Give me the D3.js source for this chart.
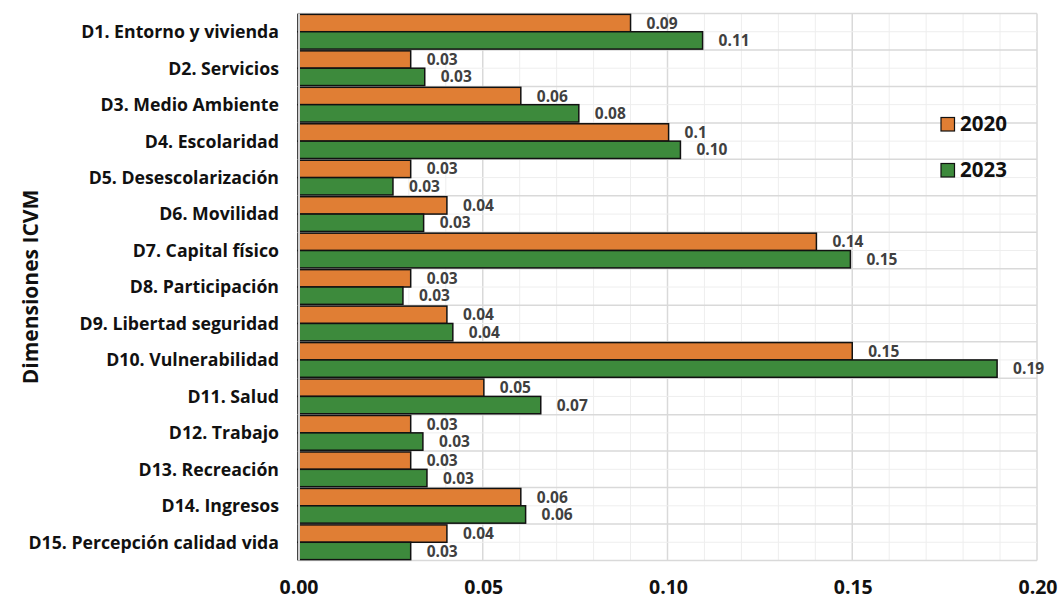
<!DOCTYPE html>
<html lang="es">
<head>
<meta charset="UTF-8">
<title>Dimensiones ICVM 2020 - 2023</title>
<script src="https://d3js.org/d3.v7.min.js"></script>
<style>
  body { margin: 0; background: #fff; }
  svg { font-family: "Open Sans", Lato, sans-serif; }
</style>
</head>
<body>
<div id="chart"></div>
<script>
// categories and series values
const categories = [
  "D1. Entorno y vivienda", "D2. Servicios", "D3. Medio Ambiente", "D4. Escolaridad",
  "D5. Desescolarización", "D6. Movilidad", "D7. Capital físico", "D8. Participación",
  "D9. Libertad seguridad", "D10. Vulnerabilidad", "D11. Salud", "D12. Trabajo",
  "D13. Recreación", "D14. Ingresos", "D15. Percepción calidad vida"
];
const years = ["2020", "2023"];
const values2020 = [0.090, 0.0305, 0.0603, 0.1003, 0.0305, 0.0403, 0.1403, 0.0305, 0.0403, 0.150, 0.0503, 0.0305, 0.0305, 0.0603, 0.0403];
const values2023 = [0.1095, 0.0343, 0.076, 0.1035, 0.0257, 0.034, 0.1495, 0.0284, 0.0419, 0.1892, 0.0657, 0.0338, 0.0349, 0.0616, 0.0305];
const labels2020 = ["0.09", "0.03", "0.06", "0.1", "0.03", "0.04", "0.14", "0.03", "0.04", "0.15", "0.05", "0.03", "0.03", "0.06", "0.04"];
const labels2023 = ["0.11", "0.03", "0.08", "0.10", "0.03", "0.03", "0.15", "0.03", "0.04", "0.19", "0.07", "0.03", "0.03", "0.06", "0.03"];
const xTicks = [0, 0.05, 0.10, 0.15, 0.20];

const colors = { "2020": "#E07E34", "2023": "#3D8A3C" };
const seriesValues = { "2020": values2020, "2023": values2023 };
const seriesLabels = { "2020": labels2020, "2023": labels2023 };

const width = 1062, height = 599;
const plotLeft = 298, plotRight = 1037, plotTop = 13.5, plotBottom = 560.5;

const svg = d3.select("#chart").append("svg")
  .attr("width", width).attr("height", height);

const x = d3.scaleLinear().domain([0, 0.20]).range([plotLeft, plotRight]);
const y = d3.scaleBand().domain(categories).range([plotTop, plotBottom]);
const ySub = d3.scaleBand().domain(years).range([0, y.bandwidth()]).paddingOuter(0.05);

// gridlines
const grid = svg.append("g");
d3.range(0, 21).forEach(i => {
  const v = i / 100;
  grid.append("line")
    .attr("x1", x(v)).attr("x2", x(v))
    .attr("y1", plotTop).attr("y2", plotBottom)
    .attr("stroke", i % 5 === 0 ? "#d9d9d9" : "#eeeeee")
    .attr("stroke-width", i % 5 === 0 ? 1.5 : 1);
});
categories.forEach(c => {
  grid.append("line")
    .attr("x1", plotLeft).attr("x2", plotRight)
    .attr("y1", y(c) + y.bandwidth() / 2).attr("y2", y(c) + y.bandwidth() / 2)
    .attr("stroke", "#eeeeee");
  grid.append("line")
    .attr("x1", plotLeft).attr("x2", plotRight)
    .attr("y1", y(c)).attr("y2", y(c))
    .attr("stroke", "#d9d9d9").attr("stroke-width", 1.5);
});
grid.append("line")
  .attr("x1", plotLeft).attr("x2", plotRight)
  .attr("y1", plotBottom).attr("y2", plotBottom)
  .attr("stroke", "#d9d9d9").attr("stroke-width", 1.5);

// bars
years.forEach(yr => {
  const g = svg.append("g");
  g.selectAll("rect")
    .data(categories)
    .join("rect")
    .attr("x", x(0))
    .attr("y", c => y(c) + ySub(yr))
    .attr("width", (c, i) => x(seriesValues[yr][i]) - x(0))
    .attr("height", ySub.bandwidth())
    .attr("fill", colors[yr])
    .attr("stroke", "#111")
    .attr("stroke-width", 1.5);

  g.selectAll("text")
    .data(categories)
    .join("text")
    .attr("x", (c, i) => x(seriesValues[yr][i]) + 16)
    .attr("y", c => y(c) + ySub(yr) + ySub.bandwidth() / 2)
    .attr("dy", "0.36em")
    .attr("font-size", 15.5)
    .attr("font-weight", "bold")
    .attr("fill", "#404040")
    .text((c, i) => seriesLabels[yr][i]);
});

// left axis line
svg.append("line")
  .attr("x1", plotLeft + 1).attr("x2", plotLeft + 1)
  .attr("y1", plotTop).attr("y2", plotBottom)
  .attr("stroke", "#d0d0d0").attr("stroke-width", 2);

// category labels
svg.append("g").selectAll("text")
  .data(categories)
  .join("text")
  .attr("x", 279)
  .attr("y", c => y(c) + y.bandwidth() / 2)
  .attr("dy", "0.36em")
  .attr("text-anchor", "end")
  .attr("font-size", 17.7)
  .attr("font-weight", "bold")
  .attr("fill", "#111")
  .text(c => c);

// x tick labels
svg.append("g").selectAll("text")
  .data(xTicks)
  .join("text")
  .attr("x", d => x(d) + 1)
  .attr("y", 594)
  .attr("text-anchor", "middle")
  .attr("font-size", 19.5)
  .attr("font-weight", "bold")
  .attr("fill", "#111")
  .text(d => d3.format(".2f")(d));

// y title
svg.append("text")
  .attr("transform", "translate(38,287) rotate(-90)")
  .attr("text-anchor", "middle")
  .attr("font-size", 21)
  .attr("font-weight", "bold")
  .attr("fill", "#111")
  .text("Dimensiones ICVM");

// legend
const legend = svg.append("g");
years.forEach((yr, i) => {
  const ly = 117.5 + i * 46;
  legend.append("rect")
    .attr("x", 941).attr("y", ly)
    .attr("width", 13.5).attr("height", 13.5)
    .attr("fill", colors[yr])
    .attr("stroke", "#111").attr("stroke-width", 1.2);
  legend.append("text")
    .attr("x", 960).attr("y", ly + 13.5)
    .attr("font-size", 20.5)
    .attr("font-weight", "bold")
    .attr("fill", "#111")
    .text(yr);
});
</script>
</body>
</html>
